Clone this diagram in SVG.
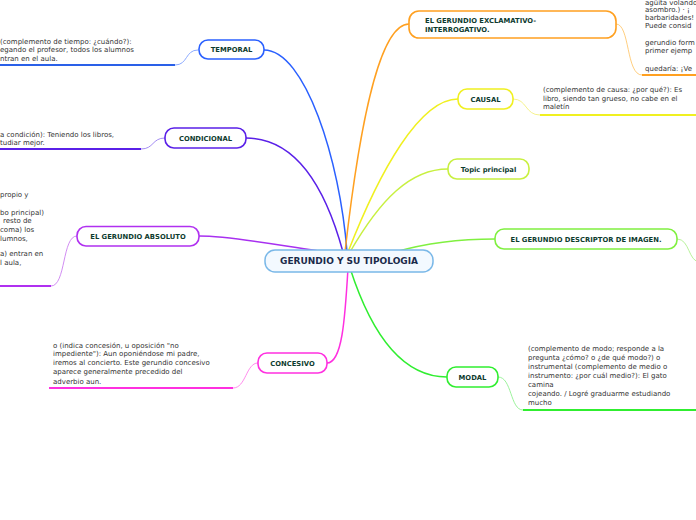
<svg xmlns="http://www.w3.org/2000/svg" width="696" height="520" viewBox="0 0 696 520">
<style>
.node{fill:#fff;stroke-width:1.6}
.nt{font-family:"DejaVu Sans",Verdana,sans-serif;font-weight:bold;font-size:6.8px;fill:#0d3b2e}
.lt{font-family:"DejaVu Sans",Verdana,sans-serif;font-size:7px;fill:#333}
.c{fill:none;stroke-width:1.5}
.lc{fill:none;stroke-width:0.9}
.ul{fill:none;stroke-width:2}
</style>
<rect width="696" height="520" fill="#fff"/>
<g id="connectors">
<path class="c" stroke="#2a60ff" d="M347,252 C340,160 305,50 264,50"/>
<path class="c" stroke="#5a20e8" d="M343,252 C322,175 290,138 246,138"/>
<path class="c" stroke="#a830f0" d="M345,254 C300,250 240,236 199,236"/>
<path class="c" stroke="#ff30e0" d="M348,268 C345,320 342,363 327,363"/>
<path class="c" stroke="#30ee30" d="M350,268 C370,330 400,377 447,377"/>
<path class="c" stroke="#80f040" d="M395,252 C430,242 460,239 495,239"/>
<path class="c" stroke="#c8f040" d="M350,252 C380,200 410,169 448,169"/>
<path class="c" stroke="#f0f020" d="M348,252 C380,170 420,99 458,99"/>
<path class="c" stroke="#ffa020" d="M345,252 C360,120 380,24 409,24"/>
<path class="lc" stroke="#7fa0ff" d="M198,50 C185,50 188,65 175,65"/>
<path class="ul" stroke="#2a60e8" d="M0,65 H175"/>
<path class="lc" stroke="#9a80f0" d="M165,138 C152,138 154,149 141,149"/>
<path class="ul" stroke="#5a20e8" d="M0,149 H141"/>
<path class="lc" stroke="#cc80f0" d="M77,236 C62,236 66,286 51,286"/>
<path class="ul" stroke="#b030f0" d="M0,286 H51"/>
<path class="lc" stroke="#ff80ea" d="M258,363 C246,363 246,388 233,388"/>
<path class="ul" stroke="#ff30e0" d="M49,388 H233"/>
<path class="lc" stroke="#90f090" d="M498,377 C512,377 510,410 523,410"/>
<path class="ul" stroke="#30ee30" d="M523,410 H696"/>
<path class="lc" stroke="#f4f080" d="M513,99 C527,99 525,115 540,115"/>
<path class="ul" stroke="#f0f020" d="M540,115 H696"/>
<path class="lc" stroke="#ffc870" d="M616,24 C630,24 626,75 642,75"/>
<path class="ul" stroke="#ffa020" d="M642,75 H696"/>
<path class="lc" stroke="#b0f090" d="M677,239 C690,239 688,262 700,262"/>
</g>
<g id="central">
<rect x="265" y="250" width="168" height="22" rx="10" fill="#f3f9ff" stroke="#7ab8e8" stroke-width="1.5"/>
<text x="349" y="264.2" text-anchor="middle" font-family="DejaVu Sans,Verdana,sans-serif" font-weight="bold" font-size="9px" fill="#1a2a4a">GERUNDIO Y SU TIPOLOGIA</text>
</g>
<g id="temporal">
<rect class="node" x="199" y="40" width="65" height="19" rx="9" stroke="#2a60ff"/>
<text class="nt" x="231.5" y="52.3" text-anchor="middle">TEMPORAL</text>
<text class="lt" x="0" y="43.5">(complemento de tiempo: ¿cuándo?):</text>
<text class="lt" x="0" y="52">egando el profesor, todos los alumnos</text>
<text class="lt" x="0" y="60.5">ntran en el aula.</text>
</g>
<g id="condicional">
<rect class="node" x="165" y="128" width="81" height="20" rx="9" stroke="#5a20e8"/>
<text class="nt" x="205.5" y="140.8" text-anchor="middle">CONDICIONAL</text>
<text class="lt" x="0" y="136.5">a condición): Teniendo los libros,</text>
<text class="lt" x="0" y="145">tudiar mejor.</text>
</g>
<g id="absoluto">
<rect class="node" x="77" y="226.5" width="122" height="19.5" rx="9" stroke="#b030f0"/>
<text class="nt" x="138" y="238.8" text-anchor="middle">EL GERUNDIO ABSOLUTO</text>
<text class="lt" x="0" y="196.5">propio y</text>
<text class="lt" x="0" y="214.5">bo principal)</text>
<text class="lt" x="3" y="223.3">resto de</text>
<text class="lt" x="0" y="232">coma) los</text>
<text class="lt" x="0" y="240.5">lumnos,</text>
<text class="lt" x="0" y="256">a) entran en</text>
<text class="lt" x="0" y="264.5">l aula,</text>
</g>
<g id="concesivo">
<rect class="node" x="258" y="353" width="69" height="20" rx="9" stroke="#ff30e0"/>
<text class="nt" x="292.5" y="365.8" text-anchor="middle">CONCESIVO</text>
<text class="lt" x="53" y="347.5">o (indica concesión, u oposición "no</text>
<text class="lt" x="53" y="356.3">impediente"): Aun oponiéndose mi padre,</text>
<text class="lt" x="53" y="365.3">iremos al concierto. Este gerundio concesivo</text>
<text class="lt" x="53" y="374.3">aparece generalmente precedido del</text>
<text class="lt" x="53" y="383.5">adverbio aun.</text>
</g>
<g id="modal">
<rect class="node" x="447" y="367" width="51" height="20" rx="9" stroke="#30ee30"/>
<text class="nt" x="472.5" y="379.8" text-anchor="middle">MODAL</text>
<text class="lt" x="528" y="351">(complemento de modo; responde a la</text>
<text class="lt" x="528" y="360">pregunta ¿cómo? o ¿de qué modo?) o</text>
<text class="lt" x="528" y="369">instrumental (complemento de medio o</text>
<text class="lt" x="528" y="378">instrumento: ¿por cuál medio?): El gato</text>
<text class="lt" x="528" y="386.5">camina</text>
<text class="lt" x="528" y="395.5">cojeando. / Logré graduarme estudiando</text>
<text class="lt" x="528" y="404.5">mucho</text>
</g>
<g id="descriptor">
<rect class="node" x="495" y="229" width="182" height="20" rx="9" stroke="#80f040"/>
<text class="nt" x="586" y="241.8" text-anchor="middle">EL GERUNDIO DESCRIPTOR DE IMAGEN.</text>
</g>
<g id="topic">
<rect class="node" x="448" y="159" width="81" height="20" rx="9" stroke="#c8f040"/>
<text class="nt" x="488.5" y="171.8" text-anchor="middle">Topic principal</text>
</g>
<g id="causal">
<rect class="node" x="458" y="89" width="55" height="20" rx="9" stroke="#f0f020"/>
<text class="nt" x="485.5" y="101.8" text-anchor="middle">CAUSAL</text>
<text class="lt" x="543" y="92">(complemento de causa: ¿por qué?): Es</text>
<text class="lt" x="543" y="100.8">libro, siendo tan grueso, no cabe en el</text>
<text class="lt" x="543" y="109.3">maletín</text>
</g>
<g id="exclamativo">
<rect class="node" x="409" y="11" width="207" height="27" rx="10" stroke="#ffa020"/>
<text class="nt" x="425" y="23">EL GERUNDIO EXCLAMATIVO-</text>
<text class="nt" x="425" y="31.7">INTERROGATIVO.</text>
<text class="lt" x="645" y="4.5">agüita volando</text>
<text class="lt" x="645" y="12">asombro.) · ¡</text>
<text class="lt" x="645" y="20">barbaridades!</text>
<text class="lt" x="645" y="28">Puede consid</text>
<text class="lt" x="645" y="45">gerundio form</text>
<text class="lt" x="645" y="53">primer ejemp</text>
<text class="lt" x="645" y="70.5">quedaría: ¡Ve</text>
</g>
</svg>
